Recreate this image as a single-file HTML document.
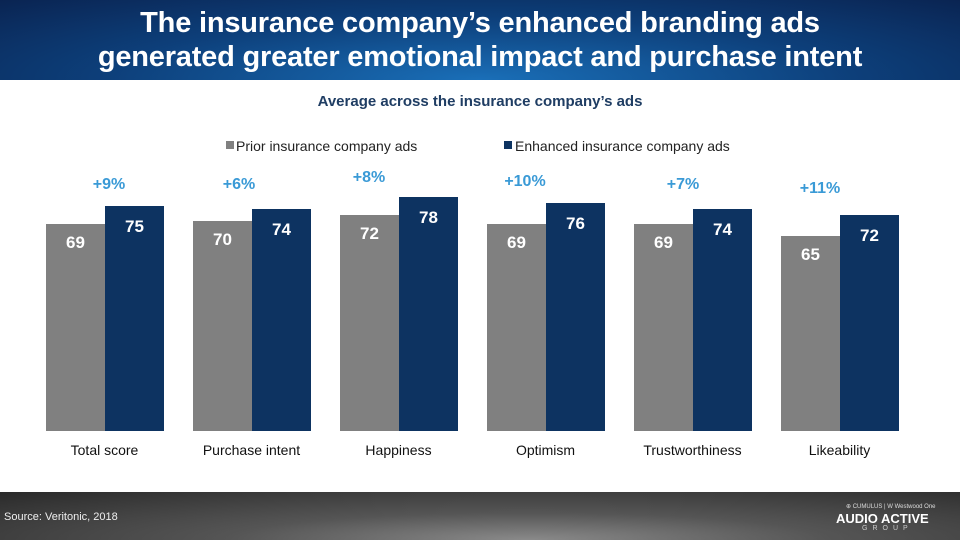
<!DOCTYPE html>
<html><head><style>
body{margin:0;width:960px;height:540px;overflow:hidden;background:#fff;font-family:"Liberation Sans",sans-serif;position:relative}
.hdr{position:absolute;left:0;top:0;width:960px;height:80px;background:radial-gradient(ellipse at 50% 100%,#1a6fb8 0%,#0d3f7a 55%,#0a2452 100%)}
.hdr div{color:#fff;font-weight:bold;font-size:29px;text-align:center;line-height:34px;padding-top:6px;letter-spacing:-0.2px}
.ftr{position:absolute;left:0;top:492px;width:960px;height:48px;background:radial-gradient(ellipse at 55% 100%,#8a8a8a 0%,#555 40%,#2a2a2a 100%)}
.t{position:absolute;white-space:nowrap}
.b{position:absolute}
.g{background:#808080}.n{background:#0d3361}
.v{position:absolute;color:#fff;font-weight:bold;font-size:17px;width:59px;text-align:center}
.p{position:absolute;color:#3a9ad6;font-weight:bold;font-size:16px;width:80px;text-align:center}
.c{position:absolute;font-size:14px;width:147px;text-align:center;top:442px;color:#111}
</style></head><body>
<div class="hdr"><div>The insurance company’s enhanced branding ads<br>generated greater emotional impact and purchase intent</div></div>
<div class="t" style="left:0;width:960px;text-align:center;top:93px;font-size:15px;font-weight:bold;color:#1f3d63">Average across the insurance company’s ads</div>
<div class="b g" style="left:226px;top:141px;width:8px;height:8px"></div>
<div class="t" style="left:236px;top:138px;font-size:14px;color:#222">Prior insurance company ads</div>
<div class="b n" style="left:504px;top:141px;width:8px;height:8px"></div>
<div class="t" style="left:515px;top:138px;font-size:14px;color:#222">Enhanced insurance company ads</div>
<div id="ch"></div>
<div class="ftr"></div>
<div class="t" style="left:4px;top:511px;font-size:11px;color:#eee">Source: Veritonic, 2018</div>
<div class="t" style="left:846px;top:503px;font-size:6px;color:#ddd">⊕ CUMULUS | W Westwood One</div>
<div class="t" style="left:836px;top:511px;font-size:13px;font-weight:bold;color:#fff">AUDIO ACTIVE</div>
<div class="t" style="left:862px;top:525px;font-size:7px;letter-spacing:5px;color:#ccc">GROUP</div>
<script>
var d=[["Total score",69,75,"+9%",176,109],["Purchase intent",70,74,"+6%",176,239],["Happiness",72,78,"+8%",169,369],["Optimism",69,76,"+10%",173,525],["Trustworthiness",69,74,"+7%",176,683],["Likeability",65,72,"+11%",180,820]];
var h="";
d.forEach(function(r,i){var x=46+147*i,ga=r[1]*3,na=r[2]*3;
h+='<div class="b g" style="left:'+x+'px;top:'+(431-ga)+'px;width:59px;height:'+ga+'px"></div>';
h+='<div class="b n" style="left:'+(x+59)+'px;top:'+(431-na)+'px;width:59px;height:'+na+'px"></div>';
h+='<div class="v" style="left:'+x+'px;top:'+(431-ga+9)+'px">'+r[1]+'</div>';
h+='<div class="v" style="left:'+(x+59)+'px;top:'+(431-na+11)+'px">'+r[2]+'</div>';
h+='<div class="p" style="left:'+(r[5]-40)+'px;top:'+r[4]+'px">'+r[3]+'</div>';
h+='<div class="c" style="left:'+(x-15)+'px">'+r[0]+'</div>';});
document.getElementById("ch").innerHTML=h;
</script>
</body></html>
